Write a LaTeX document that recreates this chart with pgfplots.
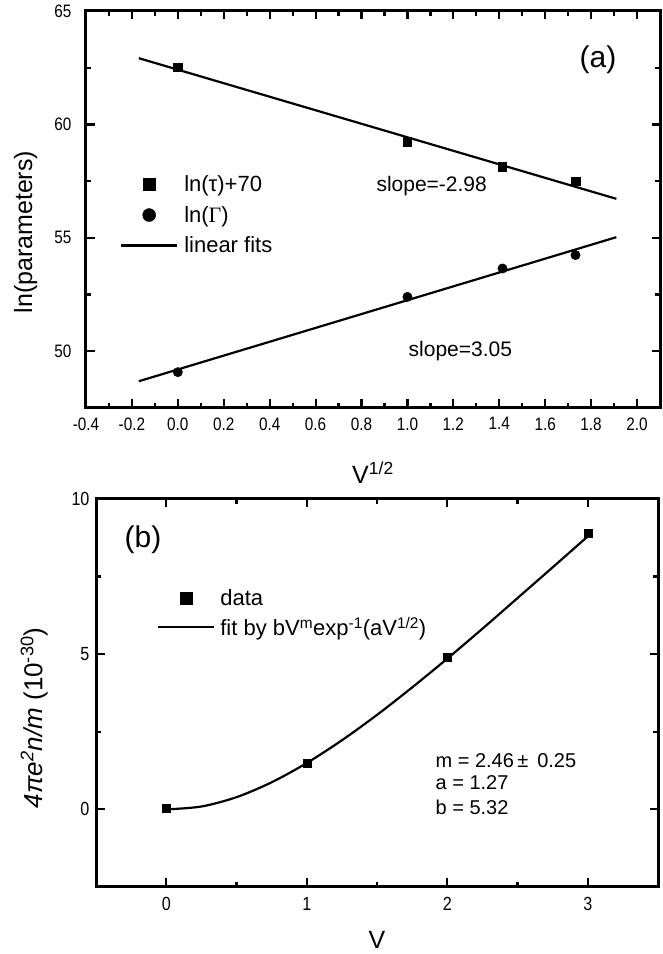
\documentclass[border=0pt]{standalone}
\usepackage{fontspec}
\setmainfont{Liberation Sans}
\newfontfamily\tickfont{Liberation Sans}[FakeStretch=0.85]
\newfontfamily\grserif{Liberation Serif}
\usepackage{pgfplots}
\pgfplotsset{compat=1.18}
\newcommand\fs[1]{\fontsize{#1}{#1}\selectfont}

\pgfplotsset{
  panel/.style={
    scale only axis, anchor=south west,
    axis line style={line width=3pt},
    every outer x axis line/.append style={line width=3pt},
    every outer y axis line/.append style={line width=3pt},
    tick style={line width=2.2pt, black},
    major tick length=8.5pt, minor tick length=5pt,
    /pgf/number format/assume math mode=true,
    every axis label/.append style={font=\fs{25}},
    legend cell align=left,
    legend image code/.code={\draw[mark repeat=2,mark phase=2,##1] plot coordinates {(0pt,0pt)(28pt,0pt)(56pt,0pt)};},
  },
}

\begin{document}
\begin{tikzpicture}
\useasboundingbox (0,0) rectangle (663pt,954pt);

% (a) top panel
\begin{axis}[panel,
  at={(86pt,546pt)}, width=574pt, height=397pt,
  xmin=-0.4, xmax=2.1, ymin=47.5, ymax=65,
  xtick={-0.4,-0.2,0,0.2,0.4,0.6,0.8,1.0,1.2,1.4,1.6,1.8,2.0},
  minor x tick num=1,
  ytick={50,55,60,65}, minor ytick={47.5,52.5,57.5,62.5},
  xticklabel style={font={\tickfont\fs{18}}, /pgf/number format/.cd, fixed, fixed zerofill, precision=1},
  yticklabel style={font={\tickfont\fs{18}}},
  xticklabel shift=6pt, yticklabel shift=11pt,
  xlabel={V\textsuperscript{1/2}},
  xlabel style={at={(axis description cs:0.5,-0.164)}, anchor=center},
  ylabel={ln(parameters)},
  ylabel style={at={(axis description cs:-0.105,0.443)}, anchor=center, rotate=0},
  legend style={draw=none, fill=none, font=\fs{22}, at={(rel axis cs:0.059,0.486)}, anchor=west,
    inner sep=0pt, row sep=13pt, column sep=6pt, nodes={inner sep=0pt}},
]
\addlegendimage{only marks, mark=square*, mark size=6pt, black}
\addlegendentry{ln(τ)+70}
\addlegendimage{only marks, mark=*, mark size=6.5pt, black}
\addlegendentry{ln({\grserif Γ})}
\addlegendimage{line width=2.2pt, black}
\addlegendentry{linear fits}

\addplot[only marks, mark=square*, mark size=4.2pt, black, forget plot]
  coordinates {(0,62.53)(1,59.23)(1.414,58.13)(1.732,57.51)};
\addplot[only marks, mark=*, mark size=4.7pt, black, forget plot]
  coordinates {(0,49.08)(1,52.40)(1.414,53.65)(1.732,54.24)};
\addplot[line width=2.2pt, black, forget plot]
  coordinates {(-0.17,62.92)(1.91,56.72)};
\addplot[line width=2.2pt, black, forget plot]
  coordinates {(-0.17,48.68)(1.91,55.03)};

\node[font=\fs{30}] at (rel axis cs:0.892,0.877) {(a)};
\node[font=\fs{21}, anchor=west] at (rel axis cs:0.50,0.559) {slope=-2.98};
\node[font=\fs{21}, anchor=west] at (rel axis cs:0.556,0.1436) {slope=3.05};
\end{axis}

% (b) bottom panel
\begin{axis}[panel,
  at={(96pt,67pt)}, width=562pt, height=388pt,
  xmin=-0.5, xmax=3.5, ymin=-2.5, ymax=10,
  xtick={0,1,2,3}, minor xtick={0.5,1.5,2.5},
  ytick={0,5,10}, minor ytick={2.5,7.5},
  xticklabel style={font={\tickfont\fs{19}}},
  yticklabel style={font={\tickfont\fs{19}}},
  xticklabel shift=7pt, yticklabel shift=3pt,
  xlabel={V},
  xlabel style={at={(axis description cs:0.5,-0.137)}, anchor=center},
  ylabel={\fs{26}\textit{4πe\textsuperscript{2}n/m} (10\textsuperscript{-30})},
  ylabel style={at={(axis description cs:-0.11,0.436)}, anchor=center, rotate=0},
  legend style={draw=none, fill=none, font=\fs{22}, at={(rel axis cs:0.1085,0.705)}, anchor=west,
    inner sep=0pt, row sep=10pt, column sep=5pt, nodes={inner sep=0pt}},
]
\addlegendimage{only marks, mark=square*, mark size=6pt, black}
\addlegendentry{data}
\addlegendimage{line width=2.2pt, black}
\addlegendentry{fit by bV\textsuperscript{m}exp\textsuperscript{-1}(aV\textsuperscript{1/2})}

\addplot[line width=2.2pt, black, smooth, forget plot]
  coordinates {(0,0)(0.25,0.093)(0.5,0.394)(0.75,0.873)(1,1.494)(1.25,2.226)
    (1.5,3.045)(1.75,3.929)(2,4.856)(2.25,5.819)(2.5,6.807)(2.75,7.798)(3,8.795)};
\addplot[only marks, mark=square*, mark size=4pt, black, forget plot]
  coordinates {(0,0.03)(1,1.48)(2,4.90)(3,8.89)};

\node[font=\fs{30}] at (rel axis cs:0.0836,0.894) {(b)};
\node[font=\fs{20}, anchor=west] at (rel axis cs:0.598,0.327) {m = 2.46\,±\hspace{9pt}0.25};
\node[font=\fs{20}, anchor=west] at (rel axis cs:0.598,0.268) {a = 1.27};
\node[font=\fs{20}, anchor=west] at (rel axis cs:0.598,0.206) {b = 5.32};
\end{axis}
\end{tikzpicture}
\end{document}
